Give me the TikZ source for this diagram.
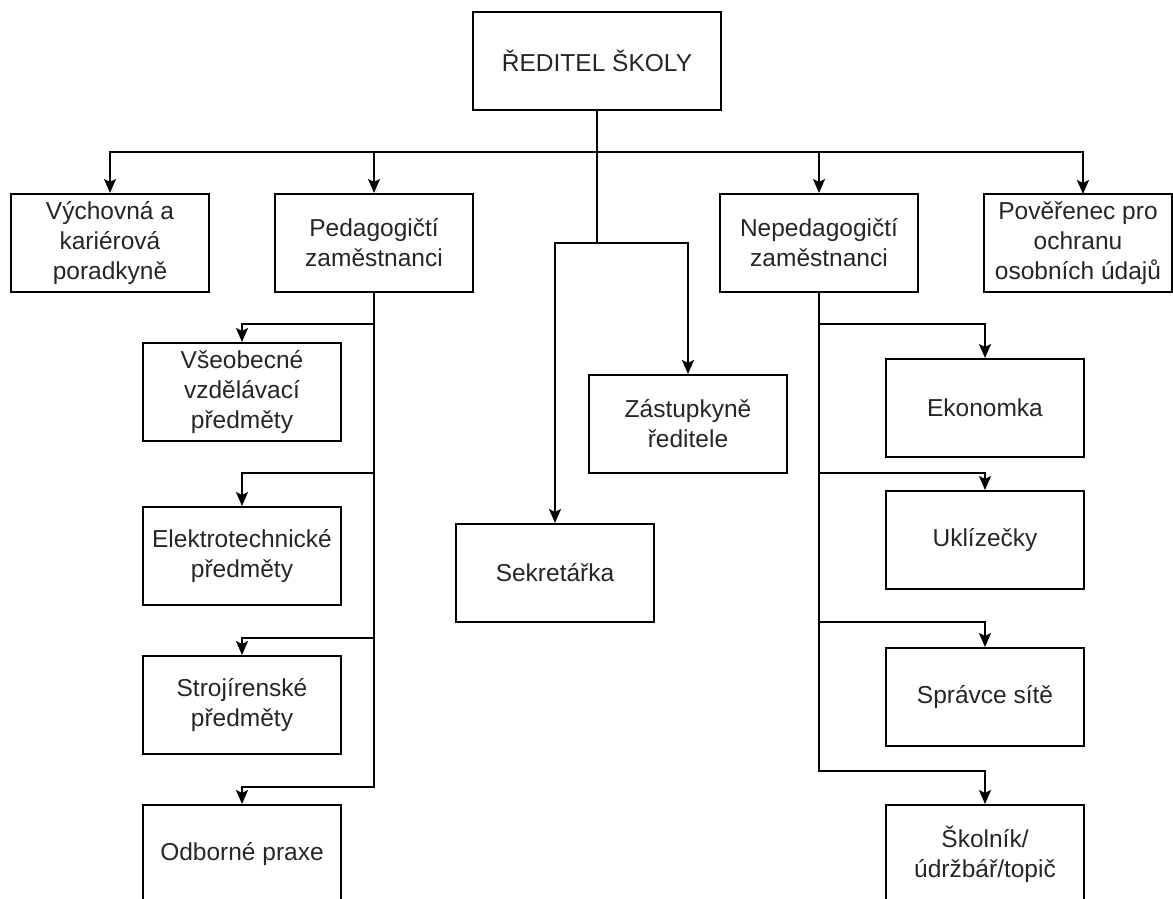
\documentclass[tikz,border=0pt]{standalone}
\usepackage{fontspec}
\setmainfont{Liberation Sans}
\usetikzlibrary{arrows.meta}
\begin{document}
\begin{tikzpicture}[x=1pt,y=-1pt,
  box/.style={draw=black,line width=2pt,rectangle,inner sep=0pt,align=center,
    minimum width=198pt,minimum height=98pt,
    font=\fontsize{24.5}{30}\selectfont,text=black!85},
  arr/.style={draw=black,line width=2pt,-{Stealth[length=14pt,width=12pt,inset=3pt]}}]
\useasboundingbox (0,0) rectangle (1173,899);
\fill[white] (0,0) rectangle (1173,899);
% nodes
\node[box,minimum width=248pt] (dir) at (597,61) {ŘEDITEL ŠKOLY};
\node[box] (vych) at (110,243) {Výchovná a\\kariérová\\poradkyně};
\node[box] (ped) at (374,243) {Pedagogičtí\\zaměstnanci};
\node[box] (neped) at (819,243) {Nepedagogičtí\\zaměstnanci};
\node[box,minimum width=188pt] (pov) at (1078,243) {Pověřenec pro\\ochranu\\osobních údajů};
\node[box] (zast) at (688,424) {Zástupkyně\\ředitele};
\node[box] (sekr) at (555,573) {Sekretářka};
\node[box] (vseo) at (242,392) {Všeobecné\\vzdělávací\\předměty};
\node[box] (elek) at (242,556) {Elektrotechnické\\předměty};
\node[box] (stroj) at (242,705) {Strojírenské\\předměty};
\node[box] (odb) at (242,854) {Odborné praxe};
\node[box] (ekon) at (985,408) {Ekonomka};
\node[box] (ukl) at (985,540) {Uklízečky};
\node[box] (sprav) at (985,697) {Správce sítě};
\node[box] (skol) at (985,854) {Školník/\\údržbář/topič};
% junction points
\coordinate (bus) at (597,152);
\coordinate (mid) at (597,243);
\coordinate (povin) at (1083,194);
\coordinate (p1) at (374,324);
\coordinate (p2) at (374,473);
\coordinate (p3) at (374,638);
\coordinate (p4) at (374,787);
\coordinate (n1) at (819,324);
\coordinate (n2) at (819,473);
\coordinate (n3) at (819,622);
\coordinate (n4) at (819,771);
% connectors
\draw[arr] (dir.south) -- (bus) -| (vych.north);
\draw[arr] (dir.south) -- (bus) -| (ped.north);
\draw[arr] (dir.south) -- (bus) -| (neped.north);
\draw[arr] (dir.south) -- (bus) -| (povin);
\draw[arr] (dir.south) -- (mid) -| (sekr.north);
\draw[arr] (dir.south) -- (mid) -| (zast.north);
\draw[arr] (ped.south) -- (p1) -| (vseo.north);
\draw[arr] (ped.south) -- (p2) -| (elek.north);
\draw[arr] (ped.south) -- (p3) -| (stroj.north);
\draw[arr] (ped.south) -- (p4) -| (odb.north);
\draw[arr] (neped.south) -- (n1) -| (ekon.north);
\draw[arr] (neped.south) -- (n2) -| (ukl.north);
\draw[arr] (neped.south) -- (n3) -| (sprav.north);
\draw[arr] (neped.south) -- (n4) -| (skol.north);
\end{tikzpicture}
\end{document}
